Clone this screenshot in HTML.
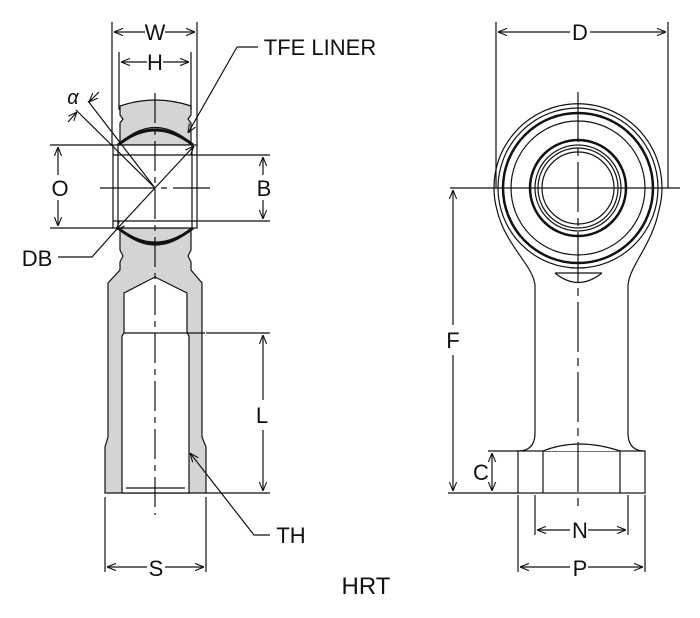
<!DOCTYPE html>
<html><head><style>body{margin:0;background:#fff}svg{display:block}text{font-family:"Liberation Sans",sans-serif;fill:#111}</style></head><body>
<svg width="700" height="618" viewBox="0 0 700 618" xmlns="http://www.w3.org/2000/svg">
<defs><marker id="a" viewBox="0 0 10 10" refX="10" refY="5" markerWidth="9" markerHeight="9" orient="auto-start-reverse" markerUnits="userSpaceOnUse"><path d="M0,1 L10,5 L0,9" fill="none" stroke="#111" stroke-width="1.2"/></marker></defs>
<g stroke="#111" stroke-width="1.2" fill="none">
<!-- LEFT VIEW -->
<path d="M120,106 Q155,94 191,106 L191,115 L188,119 L191,123 L191,145 L120,145 L120,123 L123,119 L120,115 Z" fill="#d4d4d4"/>
<path d="M120,228 L191,228 L191,250 L188,256 L191,262 L191,270 L202,283 L202,437 L206,447 L206,493 L105,493 L105,447 L108,437 L108,283 L120,270 L120,262 L123,256 L120,250 Z" fill="#d4d4d4"/>
<path d="M118,145 Q155,110 193,145 Z" fill="#d4d4d4"/>
<path d="M118,228 Q155,262 193,228 Z" fill="#d4d4d4"/>
<path d="M118,145 Q155,115 193,145" stroke-width="3"/>
<path d="M118,228 Q155,258 193,228" stroke-width="3"/>
<rect x="113" y="145" width="84" height="83" fill="#fff"/>
<line x1="118" y1="145" x2="118" y2="228"/><line x1="192" y1="145" x2="192" y2="228"/>
<line x1="113" y1="155" x2="270" y2="155"/><line x1="113" y1="221" x2="270" y2="221"/>
<path d="M155,277 L187,293 L187,333 L189,336 L189,493 L122,493 L122,336 L124,333 L124,293 Z" fill="#fff"/>
<line x1="124" y1="333" x2="205" y2="333"/><line x1="206" y1="333" x2="270" y2="333"/>
<line x1="126" y1="488" x2="185" y2="488"/>
<line x1="206" y1="493" x2="270" y2="493"/>
<line x1="155" y1="93" x2="155" y2="515" stroke-dasharray="30,6,6,6"/>
<line x1="100" y1="188" x2="210" y2="188" stroke-dasharray="55,6,6,6"/>
<line x1="112" y1="22" x2="112" y2="145"/><line x1="197" y1="22" x2="197" y2="145"/>
<line x1="119" y1="52" x2="119" y2="110"/><line x1="191" y1="52" x2="191" y2="110"/>
<line x1="114" y1="32" x2="145" y2="32" marker-start="url(#a)"/><line x1="165" y1="32" x2="195" y2="32" marker-end="url(#a)"/>
<line x1="121" y1="62" x2="147" y2="62" marker-start="url(#a)"/><line x1="163" y1="62" x2="189" y2="62" marker-end="url(#a)"/>
<line x1="50" y1="145" x2="113" y2="145"/><line x1="50" y1="228" x2="113" y2="228"/>
<line x1="58" y1="147" x2="58" y2="175" marker-start="url(#a)"/><line x1="58" y1="200" x2="58" y2="226" marker-end="url(#a)"/>
<line x1="263" y1="157" x2="263" y2="175" marker-start="url(#a)"/><line x1="263" y1="200" x2="263" y2="219" marker-end="url(#a)"/>
<line x1="263" y1="335" x2="263" y2="400" marker-start="url(#a)"/><line x1="263" y1="430" x2="263" y2="491" marker-end="url(#a)"/>
<line x1="105" y1="497" x2="105" y2="572"/><line x1="206" y1="497" x2="206" y2="572"/>
<line x1="107" y1="567" x2="147" y2="567" marker-start="url(#a)"/><line x1="165" y1="567" x2="204" y2="567" marker-end="url(#a)"/>
<line x1="155" y1="188" x2="88" y2="101"/>
<line x1="155" y1="188" x2="76" y2="110"/>
<line x1="99" y1="92" x2="89" y2="102" marker-end="url(#a)"/>
<line x1="68" y1="122" x2="77" y2="112" marker-end="url(#a)"/>
<line x1="155" y1="188" x2="194" y2="146" marker-end="url(#a)"/>
<line x1="155" y1="188" x2="116" y2="230" marker-end="url(#a)"/>
<path d="M116,230 L92,257 L58,257"/>
<path d="M237,47 L258,47"/><path d="M237,47 L188,133" marker-end="url(#a)"/>
<path d="M270,535 L254,535 L190,453" marker-end="url(#a)"/>
<!-- RIGHT VIEW -->
<path d="M535,285 C533,265 505,245 497,210 A84,84 0 1 1 659,210 C652,245 630,265 628,285"/>
<circle cx="578" cy="188" r="80"/>
<circle cx="578" cy="188" r="75" stroke-width="2.5"/>
<circle cx="578" cy="188" r="67"/>
<circle cx="578" cy="188" r="48" stroke-width="2.5"/>
<circle cx="578" cy="188" r="43"/>
<circle cx="578" cy="188" r="40"/>
<circle cx="578" cy="188" r="36"/>
<path d="M555,273 Q578,292 602,273"/><line x1="555" y1="273" x2="602" y2="273"/>
<path d="M535,285 L535,433 Q535,451 518,451"/><path d="M628,285 L628,433 Q628,451 645,451"/>
<rect x="518" y="451" width="127" height="42"/>
<line x1="543" y1="451" x2="543" y2="493"/><line x1="620" y1="451" x2="620" y2="493"/>
<path d="M543,451 Q578,437 620,451" fill="#fff"/>
<line x1="578" y1="92" x2="578" y2="510" stroke-dasharray="50,6,8,6"/>
<line x1="450" y1="188" x2="680" y2="188"/>
<line x1="496" y1="22" x2="496" y2="188"/><line x1="668" y1="22" x2="668" y2="188"/>
<line x1="498" y1="32" x2="570" y2="32" marker-start="url(#a)"/><line x1="590" y1="32" x2="666" y2="32" marker-end="url(#a)"/>
<line x1="453" y1="190" x2="453" y2="325" marker-start="url(#a)"/><line x1="453" y1="355" x2="453" y2="491" marker-end="url(#a)"/>
<line x1="448" y1="493" x2="518" y2="493"/><line x1="488" y1="451" x2="518" y2="451"/>
<line x1="492" y1="453" x2="492" y2="491" marker-start="url(#a)" marker-end="url(#a)"/>
<line x1="535" y1="495" x2="535" y2="535"/><line x1="628" y1="495" x2="628" y2="535"/>
<line x1="537" y1="530" x2="570" y2="530" marker-start="url(#a)"/><line x1="588" y1="530" x2="626" y2="530" marker-end="url(#a)"/>
<line x1="518" y1="495" x2="518" y2="572"/><line x1="645" y1="495" x2="645" y2="572"/>
<line x1="520" y1="567" x2="570" y2="567" marker-start="url(#a)"/><line x1="588" y1="567" x2="643" y2="567" marker-end="url(#a)"/>
</g>
<g font-size="22" text-anchor="middle">
<text x="155" y="40">W</text><text x="155" y="70">H</text>
<text x="73" y="104" font-style="italic" font-size="20">α</text>
<text x="320" y="55">TFE LINER</text>
<text x="60" y="196">O</text><text x="264" y="196">B</text>
<text x="37" y="266">DB</text>
<text x="262" y="423">L</text>
<text x="291" y="543">TH</text>
<text x="156" y="576">S</text>
<text x="580" y="40">D</text>
<text x="453" y="348">F</text>
<text x="481" y="480">C</text>
<text x="580" y="538">N</text>
<text x="580" y="576">P</text>
<text x="366" y="594" font-size="24">HRT</text>
</g>
</svg>
</body></html>
